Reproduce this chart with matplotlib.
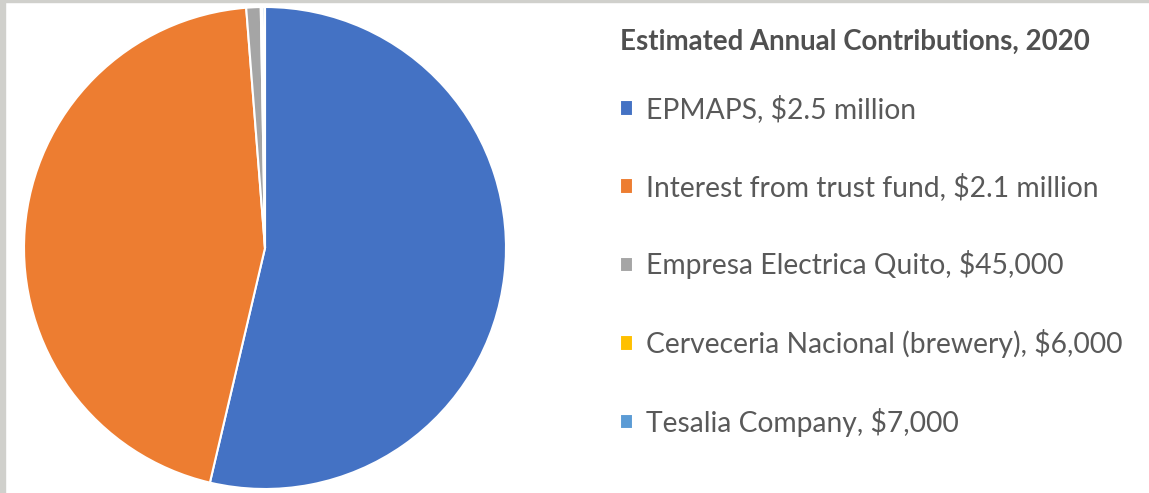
import matplotlib.pyplot as plt
from matplotlib.patches import Rectangle

# contributions in USD
sources = ["EPMAPS", "Interest from trust fund", "Empresa Electrica Quito",
           "Cerveceria Nacional (brewery)", "Tesalia Company"]
amounts = [2_500_000, 2_100_000, 45_000, 6_000, 7_000]
amount_labels = ["$2.5 million", "$2.1 million", "$45,000", "$6,000", "$7,000"]
colors = ["#4472C4", "#ED7D31", "#A5A5A5", "#FFC000", "#5B9BD5"]
title = "Estimated Annual Contributions, 2020"

plt.rcParams["font.family"] = ["Lato", "DejaVu Sans"]

W, H = 1149, 493
fig = plt.figure(figsize=(W / 100, H / 100), dpi=100)
fig.patch.set_facecolor("white")

# grey frame bits at left/top edge of the screenshot
fig.patches.append(Rectangle((0, 0), 5 / W, 1, transform=fig.transFigure,
                             color="#D0D0CC", zorder=0))
fig.patches.append(Rectangle((0, 1 - 2 / H), 1, 2 / H, transform=fig.transFigure,
                             color="#D0D0CC", zorder=0))

cx, cy, r = 265, 493 - 248, 241
ax = fig.add_axes([(cx - r) / W, (cy - r) / H, 2 * r / W, 2 * r / H])
wedges, _ = ax.pie(amounts, colors=colors, startangle=90, counterclock=False,
                   radius=1, wedgeprops=dict(edgecolor="white", linewidth=1.5))
ax.set_xlim(-1, 1)
ax.set_ylim(-1, 1)
ax.set_aspect("equal")
ax.axis("off")

labels = [f"{s}, {a}" for s, a in zip(sources, amount_labels)]
leg = fig.legend(wedges, labels, loc="upper left",
                 bbox_to_anchor=(620 / W, 1 - 29 / H), frameon=False,
                 fontsize=20.3, labelcolor="#595959",
                 title=title,
                 title_fontproperties=dict(size=19.9, weight="bold"),
                 handlelength=0.47, handleheight=0.47, handletextpad=0.45,
                 labelspacing=1.76, borderaxespad=0, borderpad=0)
leg.get_title().set_color("#505050")
leg._legend_box.align = "left"
leg._legend_box.sep = 29

fig.savefig("out.png", dpi=100)
